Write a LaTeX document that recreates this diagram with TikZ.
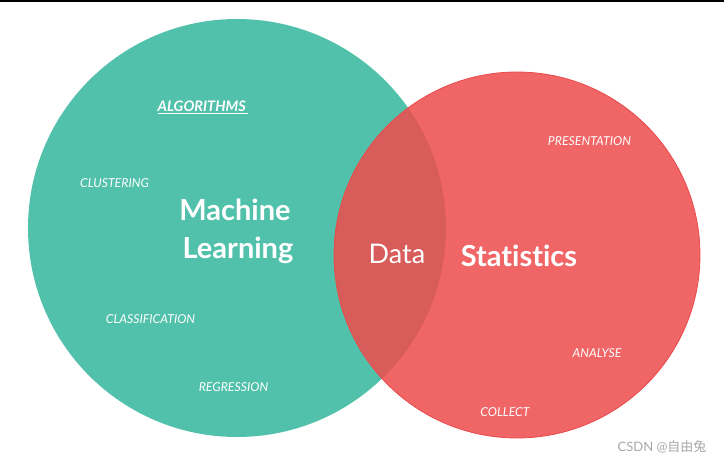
\documentclass[tikz,border=0pt]{standalone}
\usepackage{fontspec}
\usepackage{xcolor}
\usepackage{tikz}
\setmainfont[Ligatures=NoCommon]{Lato}
\newfontfamily\cjkfont{Noto Sans CJK SC}
\usetikzlibrary{positioning}
\definecolor{mlgreen}{HTML}{52C1AB}
\definecolor{statred}{HTML}{EE4C4D}
\definecolor{statedge}{HTML}{EA4A4B}
\definecolor{markgray}{HTML}{A8A8A8}

\tikzset{
  topic/.style={text=white, font=\fontsize{12.3}{14}\selectfont\itshape, inner sep=0pt},
  bigname/.style={text=white, font=\fontsize{29}{38}\selectfont\bfseries, align=center, inner sep=0pt}
}

\begin{document}
\begin{tikzpicture}[x=1pt,y=-1pt]
    \useasboundingbox[fill=white] (0,0) rectangle (724,460);
    \fill[black] (0,0) rectangle (724,1.6);

    \node[circle, fill=mlgreen, minimum size=418pt, inner sep=0pt](ml) at (237,228){};
    \node[circle, fill=statred, fill opacity=0.86, draw=statedge, line width=0.8pt,
          minimum size=366pt, inner sep=0pt](stat) at (517,255){};

    \node[topic, font=\fontsize{14.5}{16}\selectfont\bfseries\itshape] (algo) at (203,107){\underline{ALGORITHMS\,}};
    \node[topic] (clus) at (114.5,183){CLUSTERING};
    \node[bigname] (mlname) at (235,231){Machine\\\hspace{6pt}Learning};
    \node[topic] (class) at (150.5,319){CLASSIFICATION};
    \node[topic] (regr) at (233.5,387){REGRESSION};

    \node[text=white, font=\fontsize{27}{32}\selectfont, inner sep=0pt] (data) at (397,254){Data};
    \node[bigname] (statname) at (519,256){Statistics};
    \node[topic] (pres) at (589.5,141){PRESENTATION};
    \node[topic] (anal) at (597,353){ANALYSE};
    \node[topic] (coll) at (505,412){COLLECT};

    \node[text=markgray, font=\fontsize{13}{15}\selectfont, inner sep=0pt] (mark) at (662,447){CSDN @{\cjkfont 自由兔}};
  \end{tikzpicture}
\end{document}
